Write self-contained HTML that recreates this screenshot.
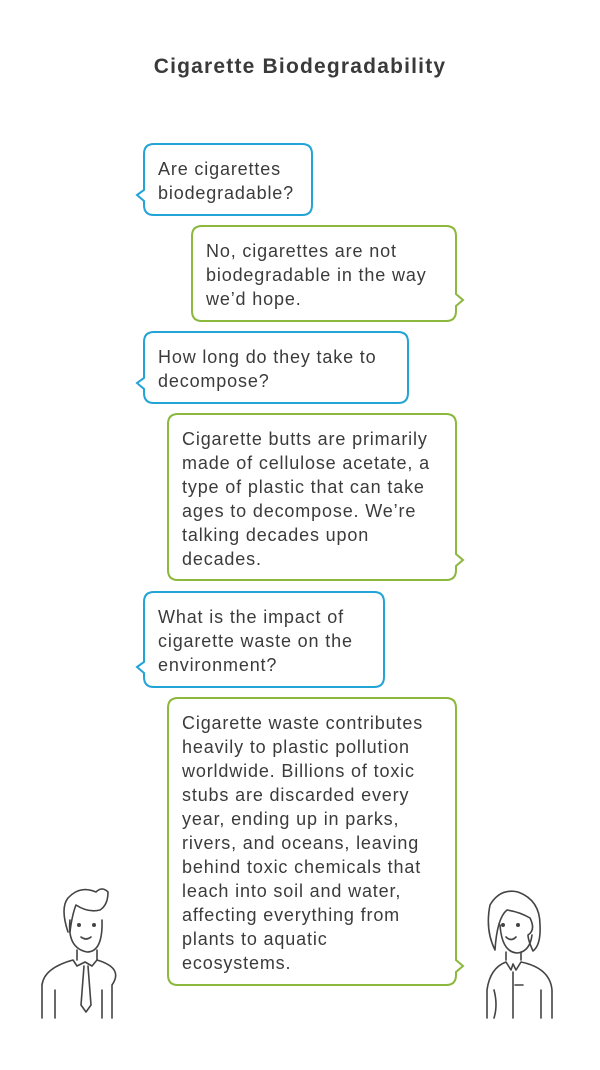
<!DOCTYPE html>
<html><head><meta charset="utf-8"><style>
html,body{margin:0;padding:0;background:#fff;}
svg{display:block;}
text{font-family:"Liberation Sans",Arial,sans-serif;fill:#3b3b3b;font-size:18px;letter-spacing:0.85px;}
</style></head><body>
<svg width="600" height="1070" viewBox="0 0 600 1070" xmlns="http://www.w3.org/2000/svg">
<text x="300" y="73" text-anchor="middle" style="font-weight:bold;font-size:21px;letter-spacing:1.2px;fill:#3a3a3a">Cigarette Biodegradability</text>
<g fill="#fff" stroke-width="2">
<path stroke="#23a4d6" d="M154,144 H302 Q312,144 312,154 V205 Q312,215 302,215 H154 Q144,215 144,205 V201 L137,195 L144,190 V154 Q144,144 154,144Z"/>
<path stroke="#8bb83d" d="M202,226 H446 Q456,226 456,236 V294 L463,300 L456,306 V311 Q456,321 446,321 H202 Q192,321 192,311 V236 Q192,226 202,226Z"/>
<path stroke="#23a4d6" d="M154,332 H398 Q408,332 408,342 V393 Q408,403 398,403 H154 Q144,403 144,393 V389 L137,383 L144,378 V342 Q144,332 154,332Z"/>
<path stroke="#8bb83d" d="M178,414 H446 Q456,414 456,424 V554 L463,560 L456,566 V570 Q456,580 446,580 H178 Q168,580 168,570 V424 Q168,414 178,414Z"/>
<path stroke="#23a4d6" d="M154,592 H374 Q384,592 384,602 V677 Q384,687 374,687 H154 Q144,687 144,677 V673 L137,667 L144,662 V602 Q144,592 154,592Z"/>
<path stroke="#8bb83d" d="M178,698 H446 Q456,698 456,708 V960 L463,966 L456,972 V975 Q456,985 446,985 H178 Q168,985 168,975 V708 Q168,698 178,698Z"/>
</g>
<text x="158" y="175">Are cigarettes</text>
<text x="158" y="199">biodegradable?</text>
<text x="206" y="257">No, cigarettes are not</text>
<text x="206" y="281">biodegradable in the way</text>
<text x="206" y="305">we’d hope.</text>
<text x="158" y="363">How long do they take to</text>
<text x="158" y="387">decompose?</text>
<text x="182" y="445">Cigarette butts are primarily</text>
<text x="182" y="469">made of cellulose acetate, a</text>
<text x="182" y="493">type of plastic that can take</text>
<text x="182" y="517">ages to decompose. We’re</text>
<text x="182" y="541">talking decades upon</text>
<text x="182" y="565">decades.</text>
<text x="158" y="623">What is the impact of</text>
<text x="158" y="647">cigarette waste on the</text>
<text x="158" y="671">environment?</text>
<text x="182" y="729">Cigarette waste contributes</text>
<text x="182" y="753">heavily to plastic pollution</text>
<text x="182" y="777">worldwide. Billions of toxic</text>
<text x="182" y="801">stubs are discarded every</text>
<text x="182" y="825">year, ending up in parks,</text>
<text x="182" y="849">rivers, and oceans, leaving</text>
<text x="182" y="873">behind toxic chemicals that</text>
<text x="182" y="897">leach into soil and water,</text>
<text x="182" y="921">affecting everything from</text>
<text x="182" y="945">plants to aquatic</text>
<text x="182" y="969">ecosystems.</text>
<!-- man -->
<g fill="none" stroke="#444" stroke-width="1.6" stroke-linecap="round" stroke-linejoin="round">
<path d="M68,932 Q60,908 68,898 Q80,885 96,892 Q102,886 108,892 Q108,905 100,910 Q88,913 76,905 Q72,915 70,932"/>
<path d="M70,920 Q67,948 87,952 Q103,952 102,920"/>
<circle cx="79" cy="925" r="1.2" fill="#444"/><circle cx="94" cy="925" r="1.2" fill="#444"/>
<path d="M81,937 Q86,941 91,937"/>
<path d="M77,950 V960 M97,950 V960"/>
<path d="M42,1018 V985 Q44,968 73,960 L77,966 L85,962 L92,966 L97,960 Q124,968 112,985 V1018"/>
<path d="M84,966 L81,1005 L86,1012 L91,1005 L88,966"/>
<path d="M55,990 V1018 M102,990 V1018"/>
</g>
<!-- woman -->
<g fill="none" stroke="#444" stroke-width="1.6" stroke-linecap="round" stroke-linejoin="round">
<path d="M495,950 Q485,930 490,905 Q500,888 518,892 Q540,900 540,925 Q541,945 533,951 Q528,940 528,935 Q536,930 530,918 Q520,912 507,910 Q497,918 495,950 Z"/>
<path d="M500,925 Q502,953 518,953 Q530,951 532,935"/>
<circle cx="503" cy="925" r="1.2" fill="#444"/><circle cx="518" cy="925" r="1.2" fill="#444"/>
<path d="M506,937 Q511,942 516,937"/>
<path d="M506,952 V960 M521,952 V960"/>
<path d="M487,1018 V990 Q490,968 506,962 L511,970 L513,964 L516,970 L521,962 Q550,968 552,990 V1018"/>
<path d="M494,990 Q498,1005 494,1018 M513,972 V1018 M515,985 H523 M541,990 V1018"/>
</g>
</svg>
</body></html>
